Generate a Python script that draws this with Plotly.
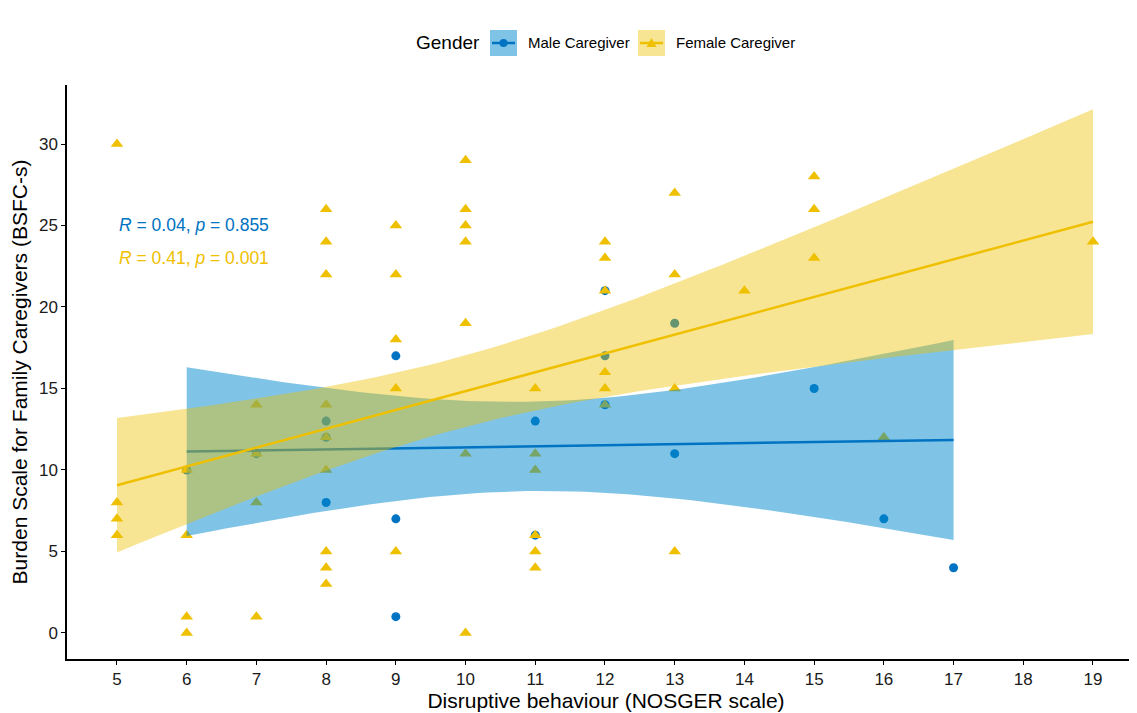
import math
import numpy as np
import plotly.graph_objects as go

# ---------------- data ----------------
male_x = [6, 7, 8, 8, 8, 9, 9, 9, 11, 11, 12, 12, 12, 13, 13, 15, 16, 17]
male_y = [10, 11, 13, 12, 8, 17, 7, 1, 13, 6, 21, 17, 14, 19, 11, 15, 7, 4]

female_x = [5, 5, 5, 5,
            6, 6, 6, 6,
            7, 7, 7, 7,
            8, 8, 8, 8, 8, 8, 8, 8, 8,
            9, 9, 9, 9, 9,
            10, 10, 10, 10, 10, 10, 10,
            11, 11, 11, 11, 11, 11,
            12, 12, 12, 12, 12, 12,
            13, 13, 13, 13,
            14,
            15, 15, 15,
            16,
            19]
female_y = [30, 8, 7, 6,
            10, 6, 1, 0,
            14, 11, 8, 1,
            26, 24, 22, 14, 12, 10, 5, 4, 3,
            25, 22, 18, 15, 5,
            29, 26, 25, 24, 19, 11, 0,
            15, 11, 10, 6, 5, 4,
            24, 23, 21, 16, 15, 14,
            27, 22, 15, 5,
            21,
            28, 26, 23,
            12,
            24]

x_ticks = list(range(5, 20))
y_ticks = [0, 5, 10, 15, 20, 25, 30]

male_label = "Male Caregiver"
female_label = "Female Caregiver"
legend_title = "Gender"
male_stat = "<i>R</i> = 0.04, <i>p</i> = 0.855"
female_stat = "<i>R</i> = 0.41, <i>p</i> = 0.001"
x_title = "Disruptive behaviour (NOSGER scale)"
y_title = "Burden Scale for Family Caregivers (BSFC-s)"

BLUE = "#0073C2"
YELLOW = "#EFC000"
BLUE_FILL = "rgba(0,137,205,0.5)"
YELLOW_FILL = "rgba(239,192,0,0.42)"
FONT = "Liberation Sans, Arial, sans-serif"


# ---------------- helpers ----------------
def t_quantile(p, df):
    c = math.exp(math.lgamma((df + 1) / 2) - math.lgamma(df / 2)) / math.sqrt(df * math.pi)

    def cdf(t):
        g = np.linspace(0, t, 4001)
        f = c * (1 + g ** 2 / df) ** (-(df + 1) / 2)
        return 0.5 + np.trapezoid(f, g)

    lo, hi = 0.0, 20.0
    for _ in range(80):
        mid = (lo + hi) / 2
        if cdf(mid) < p:
            lo = mid
        else:
            hi = mid
    return (lo + hi) / 2


def lm_ci(x, y, n_grid=80):
    x = np.asarray(x, float)
    y = np.asarray(y, float)
    n = len(x)
    b1, b0 = np.polyfit(x, y, 1)
    grid = np.linspace(x.min(), x.max(), n_grid)
    yhat = b0 + b1 * grid
    resid = y - (b0 + b1 * x)
    s = math.sqrt(np.sum(resid ** 2) / (n - 2))
    xm = x.mean()
    sxx = np.sum((x - xm) ** 2)
    se = s * np.sqrt(1 / n + (grid - xm) ** 2 / sxx)
    t = t_quantile(0.975, n - 2)
    return grid, yhat, yhat - t * se, yhat + t * se


fig = go.Figure()

# points (drawn first, ribbons on top as in ggplot)
fig.add_trace(go.Scatter(x=male_x, y=male_y, mode="markers", showlegend=False,
                         marker=dict(symbol="circle", size=9, color=BLUE)))
fig.add_trace(go.Scatter(x=female_x, y=female_y, mode="markers", showlegend=False,
                         marker=dict(symbol="triangle-up", size=11, color=YELLOW)))

for xs, ys, col, fillc in [(male_x, male_y, BLUE, BLUE_FILL),
                          (female_x, female_y, YELLOW, YELLOW_FILL)]:
    g, yh, lo, hi = lm_ci(xs, ys)
    fig.add_trace(go.Scatter(x=np.concatenate([g, g[::-1]]),
                             y=np.concatenate([hi, lo[::-1]]),
                             mode="lines", fill="toself", fillcolor=fillc,
                             line=dict(width=0), hoverinfo="skip", showlegend=False))
    fig.add_trace(go.Scatter(x=g, y=yh, mode="lines", showlegend=False,
                             line=dict(color=col, width=2.5)))

# annotations with statistics
fig.add_annotation(x=5, y=25, xref="x", yref="y", text=male_stat, showarrow=False,
                   xanchor="left", yanchor="middle", font=dict(size=17.5, color=BLUE, family=FONT))
fig.add_annotation(x=5, y=23, xref="x", yref="y", text=female_stat, showarrow=False,
                   xanchor="left", yanchor="middle", font=dict(size=17.5, color=YELLOW, family=FONT))

# ---------------- layout geometry (page has an 8px body margin) ----------------
OFF = 8
W, H = 1137, 713 - OFF
ML, MR, MT, MB = 67 - OFF, 0, 85 - OFF, 54
PW, PH = W - ML - MR, H - MT - MB


def px(xp):  # page pixel -> paper x
    return (xp - OFF - ML) / PW


def py(yp):  # page pixel -> paper y
    return (H - MB - (yp - OFF)) / PH


legend_y = 43
fig.add_annotation(x=px(414), y=py(legend_y), xref="paper", yref="paper", text=legend_title,
                   showarrow=False, xanchor="left", yanchor="middle",
                   font=dict(size=19, color="black", family=FONT))

shapes = []
for x0, col, fillc, sym in [(490, BLUE, BLUE_FILL, "circle"),
                           (638, YELLOW, YELLOW_FILL, "tri")]:
    shapes.append(dict(type="rect", xref="paper", yref="paper",
                       x0=px(x0), x1=px(x0 + 27), y0=py(legend_y + 13), y1=py(legend_y - 13),
                       fillcolor=fillc, line=dict(width=0)))
    shapes.append(dict(type="line", xref="paper", yref="paper",
                       x0=px(x0 + 2), x1=px(x0 + 25), y0=py(legend_y), y1=py(legend_y),
                       line=dict(color=col, width=2.5)))
    cx = x0 + 13.5
    if sym == "circle":
        shapes.append(dict(type="circle", xref="paper", yref="paper",
                           x0=px(cx - 4), x1=px(cx + 4), y0=py(legend_y + 4), y1=py(legend_y - 4),
                           fillcolor=col, line=dict(width=0)))
    else:
        path = "M {a},{b} L {c},{d} L {e},{f} Z".format(
            a=px(cx - 5), b=py(legend_y + 4), c=px(cx + 5), d=py(legend_y + 4),
            e=px(cx), f=py(legend_y - 5))
        shapes.append(dict(type="path", xref="paper", yref="paper", path=path,
                           fillcolor=col, line=dict(width=0)))

fig.add_annotation(x=px(526), y=py(legend_y), xref="paper", yref="paper", text=male_label,
                   showarrow=False, xanchor="left", yanchor="middle",
                   font=dict(size=15, color="black", family=FONT))
fig.add_annotation(x=px(674), y=py(legend_y), xref="paper", yref="paper", text=female_label,
                   showarrow=False, xanchor="left", yanchor="middle",
                   font=dict(size=15, color="black", family=FONT))

fig.update_layout(
    width=W, height=H,
    margin=dict(l=ML, r=MR, t=MT, b=MB, autoexpand=False),
    paper_bgcolor="white", plot_bgcolor="white",
    shapes=shapes,
    showlegend=False,
    font=dict(family=FONT, color="black"),
)
fig.update_xaxes(range=[4.283, 19.746], tickvals=x_ticks, ticktext=[str(v) for v in x_ticks],
                 automargin=False,
                 showgrid=False, zeroline=False, showline=True, linecolor="black", linewidth=1.5,
                 ticks="outside", ticklen=4, tickcolor="black", tickwidth=1.2,
                 tickfont=dict(size=17, color="#1a1a1a", family=FONT),
                 title=dict(text=x_title, font=dict(size=21, color="black", family=FONT), standoff=3))
fig.update_yaxes(range=[-1.6, 33.62], tickvals=y_ticks, ticktext=[str(v) for v in y_ticks],
                 automargin=False,
                 showgrid=False, zeroline=False, showline=True, linecolor="black", linewidth=1.5,
                 ticks="outside", ticklen=4, tickcolor="black", tickwidth=1.2,
                 tickfont=dict(size=17, color="#1a1a1a", family=FONT),
                 title=dict(text=y_title, font=dict(size=21, color="black", family=FONT), standoff=6))

fig.write_html("out.html")
